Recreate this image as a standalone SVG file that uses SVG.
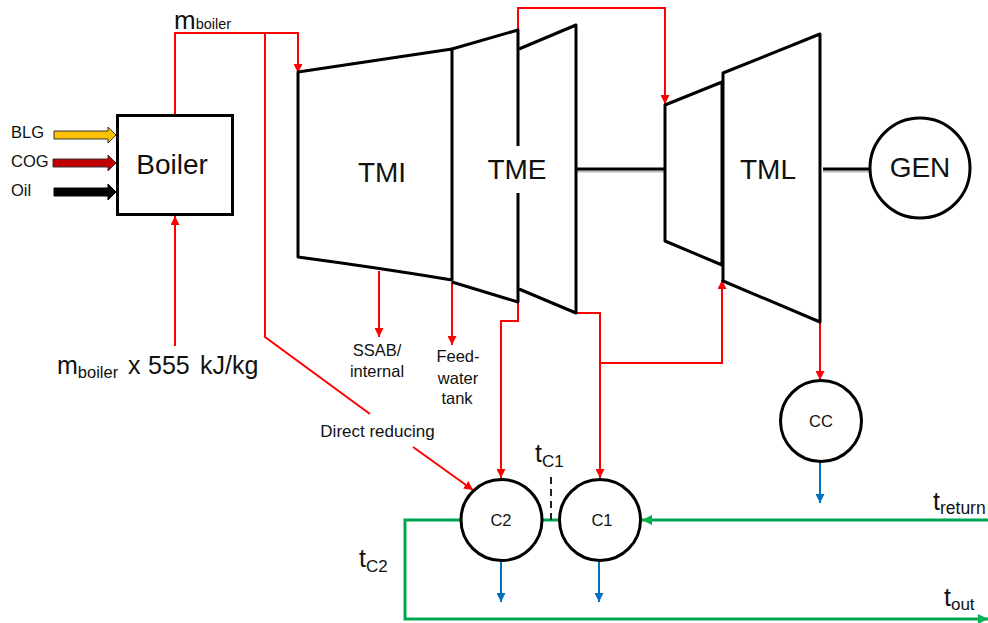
<svg xmlns="http://www.w3.org/2000/svg" width="988" height="623" viewBox="0 0 988 623">
<defs>
<marker id="ar" viewBox="0 0 10 10" refX="10" refY="5" markerWidth="9" markerHeight="9" markerUnits="userSpaceOnUse" orient="auto"><path d="M0 0L10 5L0 10Z" fill="#ff0000"/></marker>
<marker id="ab" viewBox="0 0 10 10" refX="10" refY="5" markerWidth="9" markerHeight="9" markerUnits="userSpaceOnUse" orient="auto"><path d="M0 0L10 5L0 10Z" fill="#0070c0"/></marker>
<marker id="ag" viewBox="0 0 10 10" refX="10" refY="5" markerWidth="10" markerHeight="10" markerUnits="userSpaceOnUse" orient="auto"><path d="M0 0L10 5L0 10Z" fill="#00b050"/></marker>
</defs>
<style>
text{font-family:"Liberation Sans",Arial,sans-serif;fill:#111}
.r{fill:none;stroke:#ff0000;stroke-width:2}
.b{fill:none;stroke:#0070c0;stroke-width:2}
.g{fill:none;stroke:#00a550;stroke-width:3}
.k{fill:none;stroke:#000;stroke-width:3;stroke-linejoin:round}
.n{fill:#fff;stroke:#000;stroke-width:3}
.s{font-size:16.500px}
.l{font-size:28px}
.m{text-anchor:middle}
.t{font-size:25px}
.u{font-size:17px}
</style>
<rect width="988" height="623" fill="#fff"/>
<g id="connectors">
<path class="r" d="M175 115V33H298V73" marker-end="url(#ar)"/>
<path class="r" d="M265 33V337L370 414"/>
<path class="r" d="M413 447L473 490" marker-end="url(#ar)"/>
<path class="r" d="M518 30V8H665V104" marker-end="url(#ar)"/>
<path class="r" d="M175 346V216" marker-end="url(#ar)"/>
<path class="r" d="M379 271V337" marker-end="url(#ar)"/>
<path class="r" d="M452 282V345" marker-end="url(#ar)"/>
<path class="r" d="M518 302V321H501V478" marker-end="url(#ar)"/>
<path class="r" d="M576 313H600V478" marker-end="url(#ar)"/>
<path class="r" d="M600 363H722V280" marker-end="url(#ar)"/>
<path class="r" d="M820 322V380" marker-end="url(#ar)"/>
<path class="b" d="M820 461V503" marker-end="url(#ab)"/>
<path class="b" d="M501 561V602" marker-end="url(#ab)"/>
<path class="b" d="M599 561V602" marker-end="url(#ab)"/>
<path class="g" d="M988 520H642" marker-end="url(#ag)"/>
<path class="g" d="M541 520H559"/>
<path class="g" d="M461 520H405V619H988" marker-end="url(#ag)"/>
<path d="M551 520V472" fill="none" stroke="#222" stroke-width="2" stroke-dasharray="7 5"/>
<path d="M576 171.500H665M823 171.500H870" fill="none" stroke="#bbb" stroke-width="2"/>
<path d="M576 169H665M823 169H870" fill="none" stroke="#000" stroke-width="3"/>
</g>
<g id="fuel-arrows">
<path d="M54 131H108V127L116 135L108 143V139H54Z" fill="#ffc000" stroke="#333" stroke-width="1"/>
<path d="M53 159H108V155L116 163L108 171V167H53Z" fill="#c00000" stroke="#333" stroke-width="1"/>
<path d="M54 188H108V184L116 192L108 200V196H54Z" fill="#000" stroke="#000" stroke-width="1"/>
<text class="s" x="11" y="138">BLG</text>
<text class="s" x="11" y="167">COG</text>
<text class="s" x="11" y="196">Oil</text>
</g>
<g id="boiler"><rect class="n" x="117.500" y="115.500" width="115" height="99"/><text class="l m" x="172" y="174">Boiler</text></g>
<g id="tmi"><path class="k" d="M298 72Q380 60 452 49V280Q380 268 298 257Z"/><text class="l m" x="382" y="182">TMI</text></g>
<g id="tme"><path class="k" d="M452 49L518 30V146M518 193V302L452 282"/><text class="l m" x="517" y="179">TME</text></g>
<g id="tme2"><path class="k" d="M519 49L576 25V313L519 289"/></g>
<g id="tml-a"><path class="k" d="M665 105L722 82V265L665 241Z"/></g>
<g id="tml"><path class="k" d="M723 73L820 34V322L723 281Z"/><text class="l m" x="768" y="179">TML</text></g>
<g id="gen"><circle class="n" cx="920" cy="168" r="50"/><text class="l m" x="920" y="177">GEN</text></g>
<g id="cc"><circle class="n" cx="821" cy="421" r="40.500"/><text class="s m" x="821" y="427">CC</text></g>
<g id="c2"><circle class="n" cx="501.500" cy="520" r="40.500"/><text class="s m" x="501" y="526">C2</text></g>
<g id="c1"><circle class="n" cx="600" cy="520" r="40.500"/><text class="s m" x="602" y="526">C1</text></g>
<g id="labels">
<text x="174" y="29" font-size="26">m<tspan font-size="14.500">boiler</tspan></text>
<text x="57" y="374" font-size="25">m<tspan font-size="16.500" dy="4">boiler</tspan><tspan x="128" dy="-4">x</tspan><tspan x="148">555</tspan><tspan x="200">kJ/kg</tspan></text>
<text class="s m" x="377" y="356">SSAB/</text><text class="s m" x="377" y="377">internal</text>
<text class="s m" x="458" y="362">Feed-</text><text class="s m" x="458" y="384">water</text><text class="s m" x="457" y="404">tank</text>
<text class="m" x="377.500" y="437" font-size="17">Direct reducing</text>
<text class="t" x="535" y="462">t<tspan class="u" dy="5">C1</tspan></text>
<text class="t" x="359" y="567">t<tspan class="u" dy="5">C2</tspan></text>
<text class="t" x="933" y="510">t<tspan font-size="17.500" dy="4">return</tspan></text>
<text class="t" x="944" y="606">t<tspan class="u" dy="4">out</tspan></text>
</g>
</svg>
